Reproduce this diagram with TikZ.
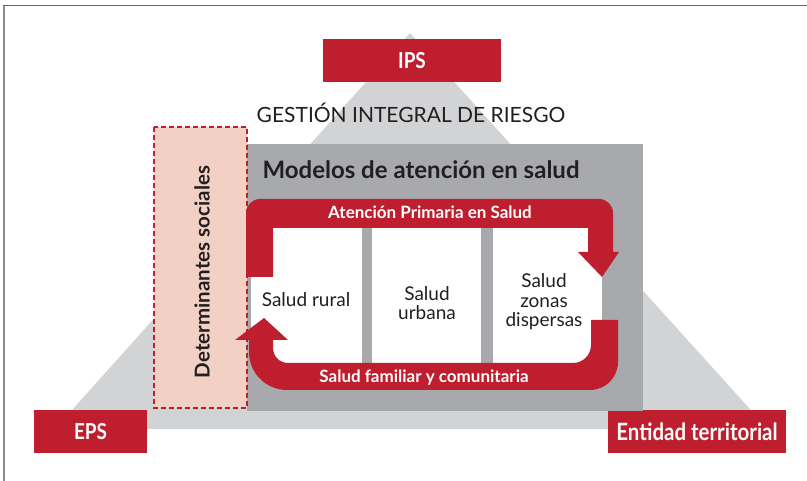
\documentclass[tikz,border=0pt]{standalone}
\usepackage{fontspec}
\setmainfont{Lato}
\newfontfamily\narrowfont[FakeStretch=0.86]{Lato}
\usetikzlibrary{positioning}
\definecolor{rojo}{HTML}{BE1E2D}
\definecolor{grisclaro}{HTML}{D1D3D4}
\definecolor{grismedio}{HTML}{A7A9AC}
\definecolor{rosa}{HTML}{F2D1C4}
\definecolor{texto}{HTML}{231F20}
\tikzstyle{actor} = [rectangle, fill=rojo, text=white, inner sep=0pt, minimum height=43pt, font=\narrowfont\bfseries\fontsize{22}{24}\selectfont]
\tikzstyle{column} = [rectangle, fill=white, inner sep=0pt, minimum height=135pt]
\tikzstyle{lbl} = [text=texto, inner sep=0pt, align=center, font=\fontsize{19}{19.5}\selectfont]
\tikzstyle{band} = [text=white, inner sep=0pt, font=\bfseries\fontsize{17}{19}\selectfont]

\begin{document}
\begin{tikzpicture}[x=1pt,y=-1pt]
		\useasboundingbox (0,0) rectangle (807,481);
		%frame
		\draw[black!60, line width=1pt] (3,6) -- (807,6);
		\draw[black!45, line width=1.3pt] (4,6) -- (4,481);

		%pyramid
		\fill[grisclaro] (410,33) -- (768,429) -- (55,429) -- cycle;
		\node[actor, minimum width=178pt] (ips) at (412,60.5) {IPS};
		\node[anchor=base, text=texto, font=\fontsize{21}{24}\selectfont] (gestion) at (411,123) {GESTIÓN INTEGRAL DE RIESGO};
		\node[actor, minimum width=113pt] (eps) at (90.5,431.5) {EPS};
		\node[actor, minimum width=178pt, font=\narrowfont\bfseries\fontsize{23.8}{26}\selectfont] (ent_terr) at (697,431.5) {Entidad territorial};

		%models
		\fill[grismedio] (247,144) rectangle (643,411);
		\node[anchor=base west, text=texto, font=\bfseries\fontsize{24}{26}\selectfont] (modelos) at (259,179) {Modelos de atención en salud};

		%social determinants
		\draw[rojo, fill=rosa, line width=2.4pt, dash pattern=on 5pt off 3pt] (154,127) rectangle (247,408);
		\node[rotate=90, text=texto, font=\bfseries\fontsize{20.5}{22}\selectfont] (det_soc) at (202,272) {Determinantes sociales};

		%columns
		\node[column, minimum width=111pt] (col_rural) at (306.5,295.5) {};
		\node[column, minimum width=109pt] (col_urbana) at (426.5,295.5) {};
		\node[column, minimum width=109pt] (col_disp) at (547.5,295.5) {};
		\node[lbl, anchor=base] (rural) at (306,307) {Salud rural};
		\node[lbl] (urbana) at (427,303) {Salud\\urbana};
		\node[lbl] (disp) at (544,302) {Salud\\zonas\\dispersas};

		%loop
		\fill[rojo] (246,277) [rounded corners=14pt] -- (246,199) -- (613,199) [sharp corners] -- (613,252) -- (619,252) -- (602,277) -- (578,252) -- (588,252) -- (588,228) -- (273,228) -- (273,277) -- cycle;
		\fill[rojo] (591,320) -- (618,320) [rounded corners=28pt] -- (618,390) [rounded corners=38pt] -- (249,390) [sharp corners] -- (249,340) -- (235,340) -- (264,318) -- (288,340) -- (273,340) [rounded corners=15pt] -- (273,363) [rounded corners=18pt] -- (591,363) [sharp corners] -- (591,320) -- cycle;
		\node[band, anchor=base] (aps) at (430,219) {Atención Primaria en Salud};
		\node[band, anchor=base] (sfc) at (424,383) {Salud familiar y comunitaria};
	\end{tikzpicture}
\end{document}
